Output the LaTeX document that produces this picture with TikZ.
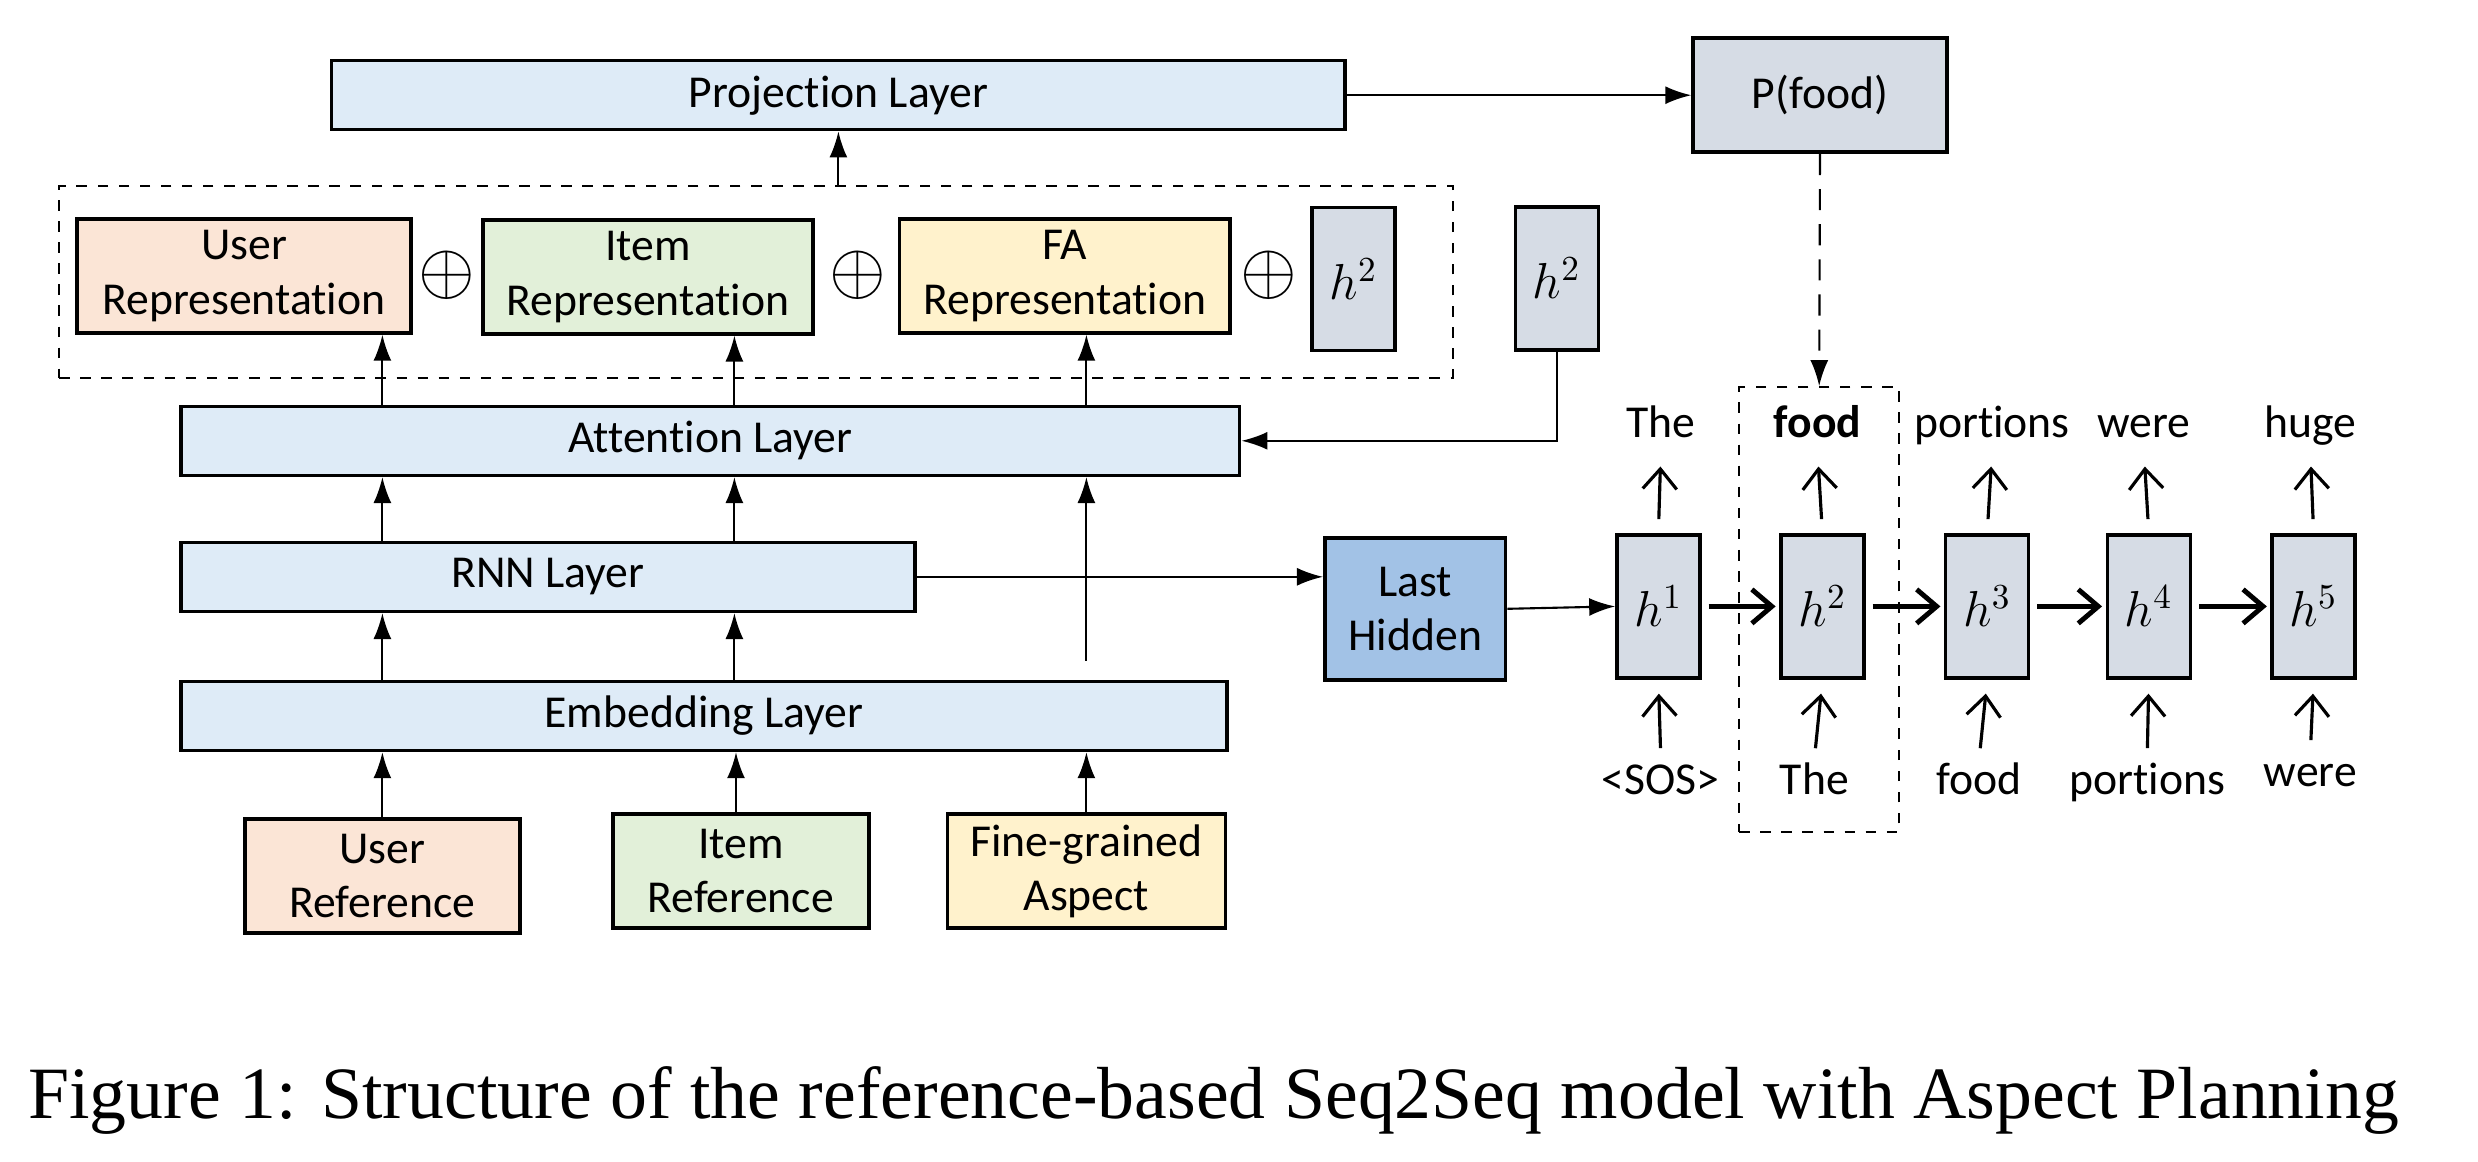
\documentclass[tikz,border=0pt]{standalone}
\usepackage{fontspec}
\setmainfont{Liberation Serif}
\newfontfamily\calibri[Ligatures=NoCommon]{Carlito}
\usetikzlibrary{arrows.meta,positioning}
\definecolor{layerblue}{HTML}{DEEBF7}
\definecolor{userpeach}{HTML}{FBE5D6}
\definecolor{itemgreen}{HTML}{E2F0D9}
\definecolor{fayellow}{HTML}{FFF2CC}
\definecolor{hgrey}{HTML}{D6DCE5}
\definecolor{hiddenblue}{HTML}{A2C2E6}
\tikzset{
  box/.style={draw, line width=1pt, align=center, inner sep=0pt,
    font=\calibri\fontsize{13}{15.5}\selectfont},
  layer/.style={box, fill=layerblue, minimum height=0.69cm},
  repbox/.style={box, minimum width=3.32cm, minimum height=1.14cm},
  hbox/.style={box, fill=hgrey, minimum width=0.83cm, minimum height=1.43cm,
    font=\fontsize{14}{16}\selectfont},
  word/.style={inner sep=1pt, text height=9pt, text depth=3pt,
    font=\calibri\fontsize{13}{15.5}\selectfont},
  oplus/.style={font=\fontsize{20}{22}\selectfont, inner sep=0pt},
  dashbox/.style={draw, dashed, line width=0.6pt},
  arr/.style={line width=0.6pt, -{Latex[length=2.6mm,width=1.8mm]}},
  wordarr/.style={line width=0.9pt, -{Straight Barb[length=2mm,width=3.4mm]}},
  chainarr/.style={line width=1.4pt, -{Straight Barb[length=2mm,width=3.4mm]}},
}
\begin{document}
\begin{tikzpicture}[x=0.016cm, y=-0.016cm]
\useasboundingbox (0,0) rectangle (1548.75,726.25);
\node[layer, minimum width=10.14cm] (proj) at (524,59.5) {Projection Layer};
\node[box, fill=hgrey, minimum width=2.54cm, minimum height=1.14cm] (pfood) at (1137.5,59.5) {P(food)};
\node[dashbox, minimum width=13.94cm, minimum height=1.92cm] (rep) at (472.5,176) {};
\node[repbox, fill=userpeach, minimum width=3.34cm] (urep) at (152.5,172.5) {User\\Representation};
\node[repbox, fill=itemgreen, minimum width=3.30cm] (irep) at (405,173) {Item\\Representation};
\node[repbox, fill=fayellow, minimum width=3.31cm] (frep) at (665.5,172.5) {FA\\Representation};
\node[hbox] (hin) at (846,174.5) {$h^2$};
\node[oplus] (plus1) at (279,172) {$\oplus$};
\node[oplus] (plus2) at (536,172) {$\oplus$};
\node[oplus] (plus3) at (793,172) {$\oplus$};
\node[hbox] (hout) at (973,174) {$h^2$};
\node[layer, minimum width=10.59cm] (att) at (444,275.5) {Attention Layer};
\node[layer, minimum width=7.34cm] (rnn) at (342.5,360.5) {RNN Layer};
\node[layer, minimum width=10.46cm] (emb) at (440,447.5) {Embedding Layer};
\node[box, fill=userpeach, minimum width=2.75cm, minimum height=1.14cm] (uref) at (239,547.5) {User\\Reference};
\node[box, fill=itemgreen, minimum width=2.56cm, minimum height=1.14cm] (iref) at (463,544.5) {Item\\Reference};
\node[box, fill=fayellow, minimum width=2.78cm, minimum height=1.14cm] (fref) at (679,544.5) {Fine-grained\\Aspect};
\node[box, fill=hiddenblue, minimum width=1.81cm, minimum height=1.42cm] (lh) at (884.5,380.5) {Last\\Hidden};
\node[hbox] (h1) at (1036.5,379) {$h^1$};
\node[hbox] (h2) at (1139,379) {$h^2$};
\node[hbox] (h3) at (1242,379) {$h^3$};
\node[hbox] (h4) at (1343,379) {$h^4$};
\node[hbox] (h5) at (1446,379) {$h^5$};
\node[dashbox, minimum width=1.6cm, minimum height=4.45cm] (col) at (1137,381) {};
\node[word] (o1) at (1038,267) {The};
\node[word] (o2) at (1136,267) {\bfseries food};
\node[word] (o3) at (1245,267) {portions};
\node[word] (o4) at (1340,267) {were};
\node[word] (o5) at (1444,267) {huge};
\node[word] (i1) at (1038,490) {<SOS>};
\node[word] (i2) at (1134,490) {The};
\node[word] (i3) at (1237,490) {food};
\node[word] (i4) at (1342,490) {portions};
\node[word] (i5) at (1444,485) {were};
\coordinate (fastart) at (679,413);
\draw[arr] (uref.north) -- (uref.north |- emb.south);
\draw[arr] (iref.north -| 460,0) -- (emb.south -| 460,0);
\draw[arr] (fref.north) -- (fref.north |- emb.south);
\draw[arr] (emb.north -| 239,0) -- (rnn.south -| 239,0);
\draw[arr] (emb.north -| 459,0) -- (rnn.south -| 459,0);
\draw[arr] (rnn.north -| 239,0) -- (att.south -| 239,0);
\draw[arr] (rnn.north -| 459,0) -- (att.south -| 459,0);
\draw[arr] (fastart) -- (fastart |- att.south);
\draw[arr] (att.north -| 239,0) -- (urep.south -| 239,0);
\draw[arr] (att.north -| 459,0) -- (irep.south -| 459,0);
\draw[arr] (att.north -| 679,0) -- (frep.south -| 679,0);
\draw[arr] (proj.south |- rep.north) -- (proj.south);
\draw[arr] (proj.east) -- (pfood.west);
\draw[arr] (hout.south) |- (att.east);
\draw[arr] (rnn.east) -- (rnn.east -| lh.west);
\draw[arr] (lh.east) -- (h1.west);
\draw[arr, dash pattern=on 6pt off 4pt] (pfood.south) -- (col.north);
\foreach \i in {1,...,5} {
  \draw[wordarr, shorten <=4pt, shorten >=4pt] (h\i.north) -- (o\i.south);
  \draw[wordarr, shorten <=3pt, shorten >=4pt] (i\i.north) -- (h\i.south);
}
\foreach \i/\j in {1/2,2/3,3/4,4/5}
  \draw[chainarr, shorten <=2pt, shorten >=1pt] (h\i.east) -- (h\j.west);
\node[anchor=base west, font=\fontsize{21}{24}\selectfont] (caption) at (10,699)
  {Figure 1: Structure of the reference-based Seq2Seq model with Aspect Planning};
\end{tikzpicture}
\end{document}
